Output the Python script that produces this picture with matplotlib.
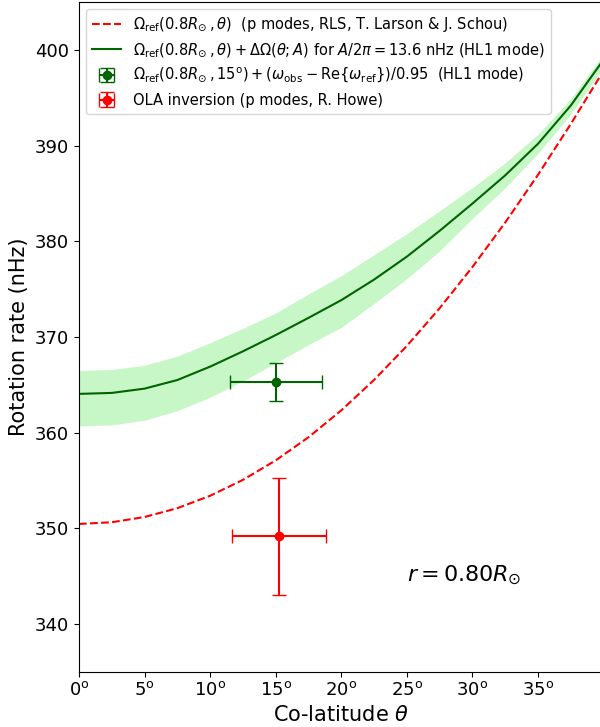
import numpy as np
import matplotlib
matplotlib.use('Agg')
import matplotlib.pyplot as plt


# co-latitude grid (degrees) and the curves (nHz)
theta = [0, 2.5, 5, 7.5, 10, 12.5, 15, 17.5, 20, 22.5, 25, 27.5, 30, 32.5, 35, 37.5, 40]
omega_ref = [350.45, 350.63, 351.18, 352.10, 353.40, 355.06, 357.10, 359.52, 362.33,
             365.51, 369.07, 373.01, 377.32, 381.97, 386.96, 392.27, 397.85]
omega_hl1 = [364.05, 364.15, 364.6, 365.5, 366.9, 368.5, 370.2, 372.0, 373.85,
             376.0, 378.4, 381.1, 383.95, 386.9, 390.2, 394.2, 399.0]
band_top = [366.5, 366.6, 367.05, 368.0, 369.4, 370.9, 372.5, 374.5, 376.4,
            378.6, 380.8, 383.2, 385.6, 388.2, 391.2, 394.9, 399.6]
band_bot = [360.7, 360.8, 361.3, 362.3, 363.7, 365.4, 367.3, 369.2, 371.0,
            373.5, 376.1, 379.0, 382.4, 385.6, 389.2, 393.3, 398.2]

# single points with error bars
hl1_pt = (15.0, 365.3)
hl1_err = (3.5, 2.0)
ola_pt = (15.25, 349.15)
ola_err = (3.6, 6.15)

xticks = [0, 5, 10, 15, 20, 25, 30, 35]


fig = plt.figure(figsize=(6, 7.27), dpi=100)
ax = fig.add_axes([0.1317, 0.076, 0.8743, 0.921])

ax.fill_between(theta, band_bot, band_top, color='lightgreen', alpha=0.5, lw=0)
ax.plot(theta, omega_ref, 'r--', lw=1.5,
        label=r'$\Omega_{\rm ref}(0.8R_{\odot}\,,\theta)$  (p modes, RLS, T. Larson & J. Schou)')
ax.plot(theta, omega_hl1, color='darkgreen', lw=1.5,
        label=r'$\Omega_{\rm ref}(0.8R_{\odot}\,,\theta)+\Delta\Omega(\theta;A)$ for $A/2\pi=13.6$ nHz (HL1 mode)')
ax.errorbar([hl1_pt[0]], [hl1_pt[1]], xerr=[hl1_err[0]], yerr=[hl1_err[1]],
            fmt='o', color='darkgreen', ms=6, capsize=5, elinewidth=1.5,
            label=r'$\Omega_{\rm ref}(0.8R_{\odot}\,,15^{\rm o})+(\omega_{\rm obs}-{\rm Re}\{\omega_{\rm ref}\})/0.95$  (HL1 mode)')
ax.errorbar([ola_pt[0]], [ola_pt[1]], xerr=[ola_err[0]], yerr=[ola_err[1]],
            fmt='o', color='red', ms=6, capsize=5, elinewidth=1.5,
            label='OLA inversion (p modes, R. Howe)')

ax.text(25, 345.1, r'$r=0.80R_{\odot}$', fontsize=16, va='center')

ax.set_xlim(0, 40)
ax.set_ylim(335, 405)
ax.set_xticks(xticks)
ax.set_xticklabels([r'$%d^{\rm o}$' % t for t in xticks])
ax.tick_params(labelsize=13)
ax.set_xlabel(r'Co-latitude $\theta$', fontsize=15)
ax.set_ylabel('Rotation rate (nHz)', fontsize=15)
ax.legend(loc='upper left', fontsize=10.5)

plt.savefig('out.png', dpi=100)
